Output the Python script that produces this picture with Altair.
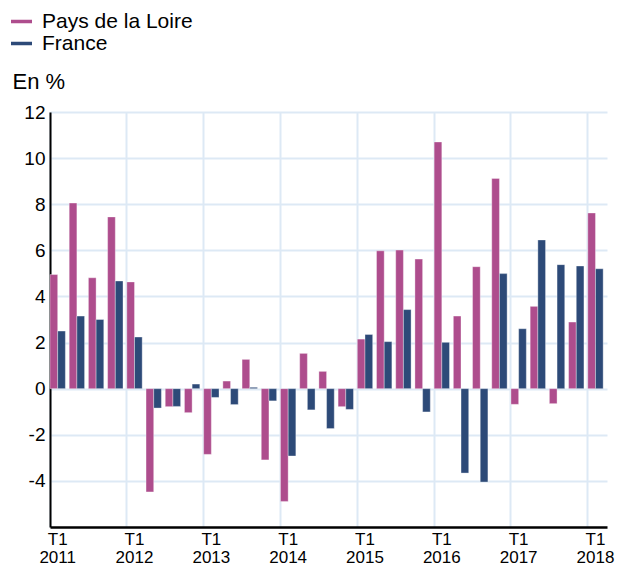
import altair as alt
import pandas as pd

years = [2011, 2012, 2013, 2014, 2015, 2016, 2017, 2018]
quarters = [f"T{q} {y}" for y in years for q in (1, 2, 3, 4)][:29]

series_names = ["Pays de la Loire", "France"]
pdl = [4.95, 8.05, 4.81, 7.45, 4.63, -4.48, -0.78, -1.04, -2.85, 0.33, 1.27, -3.09,
       -4.89, 1.53, 0.75, -0.78, 2.15, 5.98, 6.01, 5.62, 10.70, 3.15, 5.29, 9.12,
       -0.68, 3.57, -0.65, 2.89, 7.62]
fr = [2.50, 3.15, 3.00, 4.67, 2.24, -0.84, -0.77, 0.20, -0.38, -0.69, 0.06, -0.53,
      -2.92, -0.92, -1.73, -0.90, 2.35, 2.04, 3.43, -1.01, 2.01, -3.66, -4.05, 4.99,
      2.60, 6.45, 5.38, 5.32, 5.20]
colors = ["#ae4d8d", "#2d4a78"]
y_ticks = [-4, -2, 0, 2, 4, 6, 8, 10, 12]
x_ticks = [q for q in quarters if q.startswith("T1")]

rows = []
for i, q in enumerate(quarters):
    rows.append({"quarter": q, "series": series_names[0], "value": pdl[i]})
    rows.append({"quarter": q, "series": series_names[1], "value": fr[i]})
df = pd.DataFrame(rows)

font = "Liberation Sans"

chart = alt.Chart(df).mark_bar(stroke="white", strokeWidth=1, strokeOpacity=0.35).encode(
    x=alt.X("quarter:N", sort=quarters,
            scale=alt.Scale(paddingInner=0.2, paddingOuter=0.1, align=0),
            axis=alt.Axis(values=x_ticks, title=None, labelAngle=0, bandPosition=0,
                          labelExpr="split(datum.value, ' ')",
                          labelFontSize=17, labelColor="black", labelFont=font,
                          labelBaseline="top", labelPadding=4, labelLineHeight=18,
                          ticks=False, grid=True, gridColor="#dde9f5", gridWidth=2,
                          domainColor="black", domainWidth=2.5)),
    xOffset=alt.XOffset("series:N", sort=series_names),
    y=alt.Y("value:Q", scale=alt.Scale(domain=[-6, 12], nice=False),
            axis=alt.Axis(values=y_ticks, title="En %", titleAngle=0, titleAlign="left",
                          titleBaseline="alphabetic", titleX=-38, titleY=-24,
                          titleFontSize=22, titleFontWeight="normal", titleFont=font,
                          titleColor="black", labelExpr="'' + datum.value",
                          labelFontSize=19, labelColor="black", labelFont=font,
                          labelPadding=5, ticks=False, grid=True, gridColor="#dde9f5",
                          gridWidth=2, domainColor="black", domainWidth=2)),
    color=alt.Color("series:N", sort=series_names,
                    scale=alt.Scale(domain=series_names, range=colors),
                    legend=alt.Legend(title=None, orient="none", legendX=-39, legendY=-101,
                                      direction="vertical",
                                      symbolType="M-1,-0.167H1V0.167H-1Z", symbolSize=441,
                                      symbolStrokeWidth=0, symbolOpacity=1,
                                      labelFontSize=21, labelFont=font, labelColor="black",
                                      labelOffset=10, rowPadding=0, padding=0)),
).properties(
    width=557, height=415,
    autosize=alt.AutoSizeParams(type="none"),
    padding={"left": 42, "top": 104, "right": 9, "bottom": 42},
).configure_view(stroke=None)

chart.save("out.html", embed_options={"renderer": "svg", "actions": False})
